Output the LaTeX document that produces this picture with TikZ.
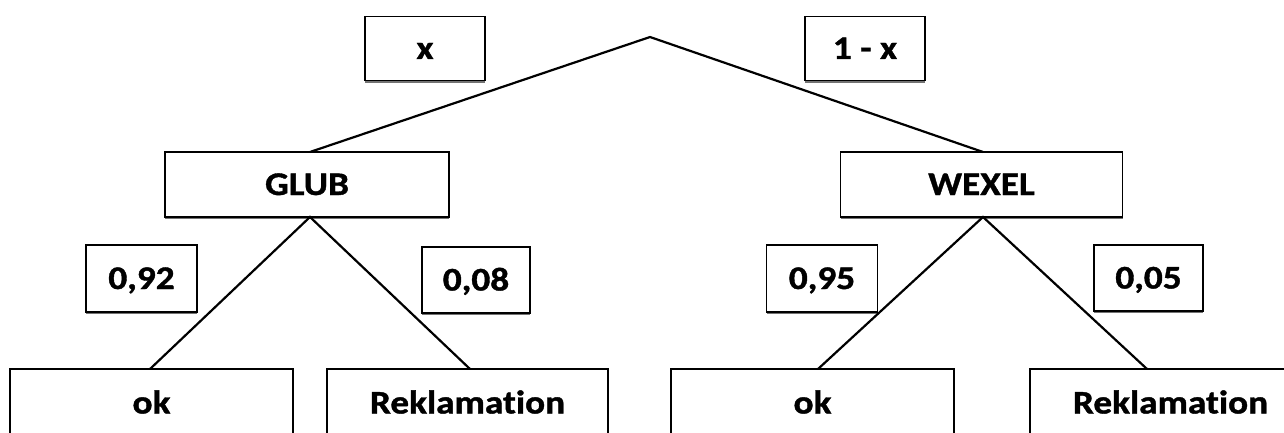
\documentclass[tikz,border=0pt]{standalone}
\usepackage{fontspec}
\setmainfont[Ligatures={NoCommon},FakeStretch=1.13,BoldFeatures={FakeBold=1.2}]{Carlito}
\usetikzlibrary{shadows}
\begin{document}
\begin{tikzpicture}[x=1pt,y=-1pt,
  box/.style={draw=black,line width=1.6pt,fill=white,inner sep=0pt,
    text height=21pt,text depth=0pt,
    font=\fontsize{33}{38}\selectfont\bfseries,
    drop shadow={shadow xshift=0pt,shadow yshift=-2.2pt,fill=black!55,opacity=1}},
  probbox/.style={box,minimum height=64pt},
  catbox/.style={box,minimum width=282pt,minimum height=65pt},
  leafbox/.style={box,minimum width=282pt,minimum height=68pt},
  branch/.style={line width=2.2pt,line cap=round,line join=miter}]
\useasboundingbox (0,0) rectangle (1284,433);
\clip (0,0) rectangle (1284,433);

% top probabilities
\node[probbox,minimum width=120pt] (px) at (425,48.5) {x};
\node[probbox,minimum width=120pt] (p1x) at (865,48.5) {1 - x};

% first level
\node[catbox,minimum width=284pt] (glub) at (307,184.5) {GLUB};
\node[catbox] (wexel) at (981.5,184.5) {WEXEL};

% second level probabilities
\node[probbox,minimum width=111pt,minimum height=67pt] (p92) at (141.5,278.5) {0,92};
\node[probbox,minimum width=108pt,minimum height=66pt] (p08) at (476,280) {0,08};
\node[probbox,minimum width=111pt,minimum height=67pt] (p95) at (822,278.5) {0,95};
\node[probbox,minimum width=109pt,minimum height=66pt] (p05) at (1148.5,278) {0,05};

% outcomes
\node[leafbox,minimum width=283pt] (ok1) at (151.5,403) {ok};
\node[leafbox,minimum width=281pt] (rek1) at (467.5,403) {Reklamation};
\node[leafbox,minimum width=283pt] (ok2) at (812.5,403) {ok};
\node[leafbox,minimum width=281pt] (rek2) at (1170.5,403) {Reklamation};

% branching points
\coordinate (root) at (650,37);
\coordinate (g-top) at (310,152);
\coordinate (g-bot) at (310,217);
\coordinate (w-top) at (983,152);
\coordinate (w-bot) at (983,217);
\coordinate (ok1-in) at (150,369);
\coordinate (rek1-in) at (470,369);
\coordinate (ok2-in) at (818,369);
\coordinate (rek2-in) at (1147,369);

\draw[branch] (g-top) -- (root) -- (w-top);
\draw[branch] (ok1-in) -- (g-bot) -- (rek1-in);
\draw[branch] (ok2-in) -- (w-bot) -- (rek2-in);
\end{tikzpicture}
\end{document}
